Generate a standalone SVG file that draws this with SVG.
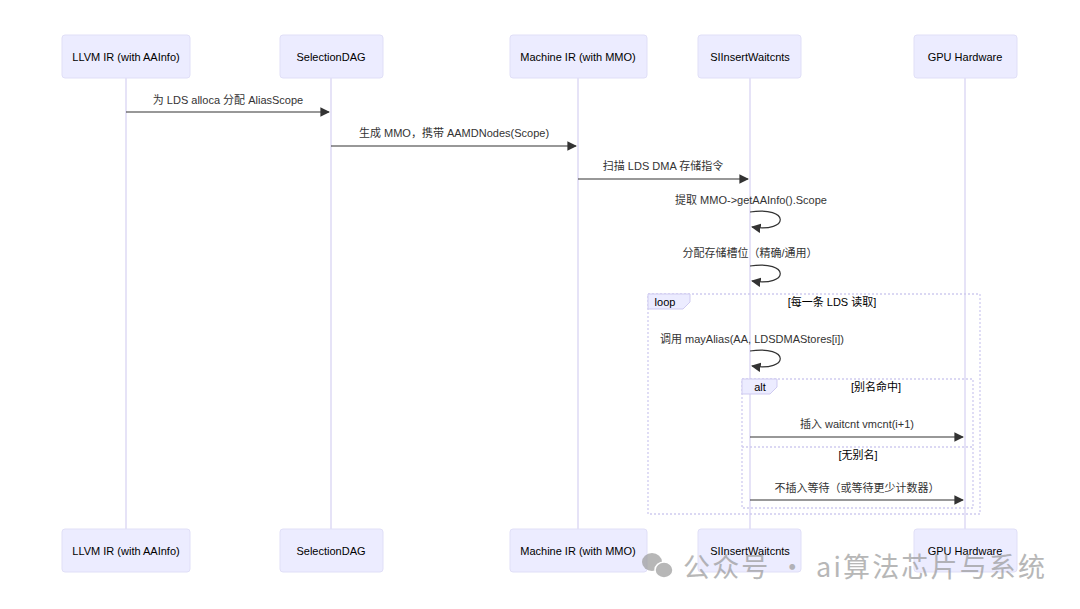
<svg xmlns="http://www.w3.org/2000/svg" width="1080" height="609" viewBox="0 0 1080 609">
<style>
.actor{fill:#ECECFF;stroke:#E0DFF7;stroke-width:1}
.atext{font-family:"Liberation Sans",Arial,sans-serif;font-size:11px;fill:#000;text-anchor:middle;dominant-baseline:central}
.life{stroke:#D5D0F2;stroke-width:1.2}
.msg{stroke:#333;stroke-width:1.2;fill:none}
.mtext{font-family:"Liberation Sans","Noto Sans CJK SC",sans-serif;font-size:11px;fill:#333;text-anchor:middle}
.frame{fill:none;stroke:#CFCBF0;stroke-width:1.3;stroke-dasharray:2 2}
.tab{fill:#ECECFF;stroke:#CFCBF0}
.ftext{font-family:"Liberation Sans","Noto Sans CJK SC",sans-serif;font-size:11px;fill:#000;text-anchor:middle}
</style>
<defs><marker id="arr" viewBox="0 0 10 10" refX="9" refY="5" markerWidth="8" markerHeight="8" orient="auto"><path d="M0,0 L10,5 L0,10 z" fill="#333"/></marker></defs>
<rect width="1080" height="609" fill="#fff"/>
<g id="lifelines">
<line class="life" x1="126" y1="78" x2="126" y2="529"/>
<line class="life" x1="331" y1="78" x2="331" y2="529"/>
<line class="life" x1="578" y1="78" x2="578" y2="529"/>
<line class="life" x1="750" y1="78" x2="750" y2="529"/>
<line class="life" x1="965" y1="78" x2="965" y2="529"/>
</g>
<g id="frames">
<rect class="frame" x="648" y="294" width="332" height="220"/>
<path class="tab" d="M648,294 H690 V302 L683,309 H648 z"/>
<text class="ftext" x="665" y="306">loop</text>
<text class="ftext" x="832" y="306">[每一条 LDS 读取]</text>
<rect class="frame" x="742" y="379" width="231" height="129"/>
<path class="tab" d="M742,379 H777 V387 L770,394 H742 z"/>
<text class="ftext" x="760" y="391">alt</text>
<text class="ftext" x="876" y="391">[别名命中]</text>
<line class="frame" x1="742" y1="447" x2="973" y2="447"/>
<text class="ftext" x="858" y="459">[无别名]</text>
</g>
<g id="connectors">
<line class="msg" x1="126" y1="112" x2="329" y2="112" marker-end="url(#arr)"/>
<text class="mtext" x="228" y="104">为 LDS alloca 分配 AliasScope</text>
<line class="msg" x1="331" y1="146" x2="576" y2="146" marker-end="url(#arr)"/>
<text class="mtext" x="454" y="137">生成 MMO，携带 AAMDNodes(Scope)</text>
<line class="msg" x1="578" y1="179" x2="748" y2="179" marker-end="url(#arr)"/>
<text class="mtext" x="663" y="170">扫描 LDS DMA 存储指令</text>
<path class="msg" d="M750,212 C790,206 790,233 752,227" marker-end="url(#arr)"/>
<text class="mtext" x="751" y="204">提取 MMO-&gt;getAAInfo().Scope</text>
<path class="msg" d="M750,266 C790,260 790,287 752,281" marker-end="url(#arr)"/>
<text class="mtext" x="750" y="257">分配存储槽位（精确/通用）</text>
<path class="msg" d="M750,351 C790,345 790,372 752,366" marker-end="url(#arr)"/>
<text class="mtext" x="752" y="343">调用 mayAlias(AA, LDSDMAStores[i])</text>
<line class="msg" x1="750" y1="437" x2="963" y2="437" marker-end="url(#arr)"/>
<text class="mtext" x="857" y="428">插入 waitcnt vmcnt(i+1)</text>
<line class="msg" x1="750" y1="500" x2="963" y2="500" marker-end="url(#arr)"/>
<text class="mtext" x="857" y="492">不插入等待（或等待更少计数器）</text>
</g>
<g id="actor-llvm"><rect class="actor" x="62" y="35" width="128" height="43" rx="3"/><text class="atext" x="126" y="57">LLVM IR (with AAInfo)</text>
<rect class="actor" x="62" y="529" width="128" height="43" rx="3"/><text class="atext" x="126" y="551">LLVM IR (with AAInfo)</text></g>
<g id="actor-dag"><rect class="actor" x="280" y="35" width="103" height="43" rx="3"/><text class="atext" x="331" y="57">SelectionDAG</text>
<rect class="actor" x="280" y="529" width="103" height="43" rx="3"/><text class="atext" x="331" y="551">SelectionDAG</text></g>
<g id="actor-mir"><rect class="actor" x="510" y="35" width="137" height="43" rx="3"/><text class="atext" x="578" y="57">Machine IR (with MMO)</text>
<rect class="actor" x="510" y="529" width="137" height="43" rx="3"/><text class="atext" x="578" y="551">Machine IR (with MMO)</text></g>
<g id="actor-si"><rect class="actor" x="698" y="35" width="103" height="43" rx="3"/><text class="atext" x="750" y="57">SIInsertWaitcnts</text>
<rect class="actor" x="698" y="529" width="103" height="43" rx="3"/><text class="atext" x="750" y="551">SIInsertWaitcnts</text></g>
<g id="actor-gpu"><rect class="actor" x="914" y="35" width="103" height="43" rx="3"/><text class="atext" x="965" y="57">GPU Hardware</text>
<rect class="actor" x="914" y="529" width="103" height="43" rx="3"/><text class="atext" x="965" y="551">GPU Hardware</text></g>
<g id="watermark" opacity="0.7">
<ellipse cx="652" cy="562" rx="10" ry="9" fill="#9a9a9a"/>
<ellipse cx="664" cy="570" rx="9" ry="8" fill="#9a9a9a" stroke="#fff" stroke-width="1.5"/>
<text x="683" y="577" font-family="'Noto Sans CJK SC',sans-serif" font-size="27" fill="#999" textLength="362">公众号 · ai算法芯片与系统</text>
</g>
</svg>
